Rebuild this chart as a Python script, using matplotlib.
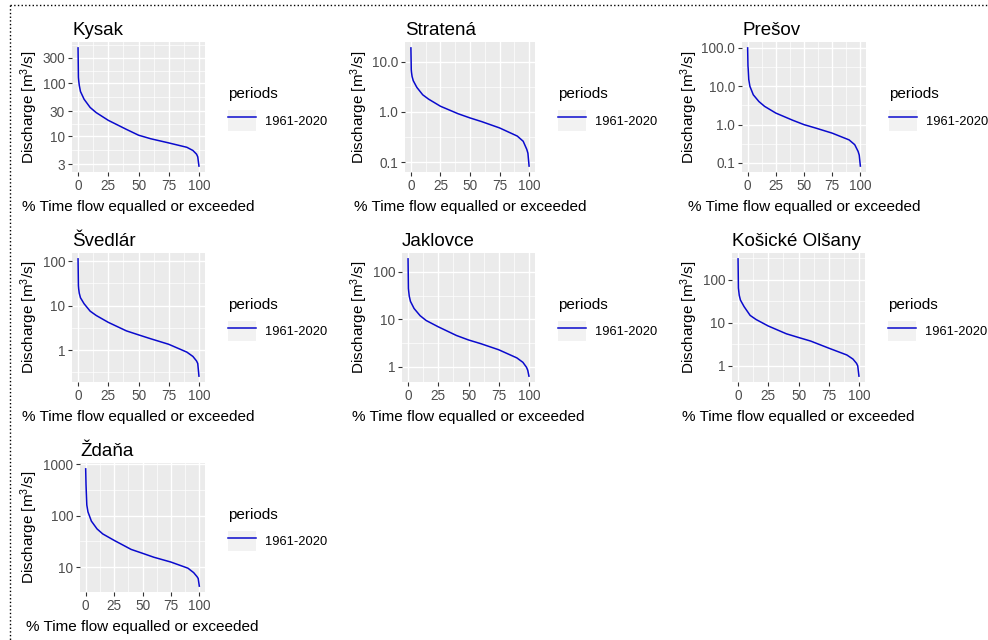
import matplotlib
matplotlib.use("Agg")
import numpy as np
import matplotlib.pyplot as plt
from matplotlib.lines import Line2D
from matplotlib.patches import Rectangle
from matplotlib.legend_handler import HandlerLine2D
from matplotlib.ticker import FixedLocator, NullFormatter

plt.rcParams["font.family"] = ["Liberation Sans", "DejaVu Sans"]
plt.rcParams["mathtext.fontset"] = "custom"
plt.rcParams["mathtext.rm"] = "Liberation Sans"
plt.rcParams["mathtext.default"] = "regular"

# exceedance percentages (shared by all stations)
pct = [0, 0.3, 0.5, 1, 2, 5, 10, 15, 25, 40, 50, 60, 75, 90, 95, 98, 99, 100]

# discharge [m3/s]
kysak_q = [465, 130, 115, 92, 70, 50, 35, 28, 20, 13.5, 10.5, 9.0, 7.5, 6.2, 5.4, 4.6, 4.1, 2.74]
stratena_q = [19, 7.0, 6.2, 5.1, 4.2, 3.1, 2.2, 1.8, 1.3, 0.92, 0.76, 0.64, 0.48, 0.33, 0.26, 0.18, 0.15, 0.083]
presov_q = [100, 34, 28, 15, 10, 6.0, 4.0, 3.0, 2.0, 1.3, 1.0, 0.82, 0.6, 0.4, 0.3, 0.2, 0.16, 0.083]
svedlar_q = [112, 28, 24, 19, 15, 11, 7.5, 6.0, 4.2, 2.7, 2.2, 1.8, 1.35, 0.9, 0.72, 0.57, 0.5, 0.26]
jaklovce_q = [189, 45, 40, 31, 24, 17, 12, 9.5, 7.0, 4.6, 3.7, 3.1, 2.3, 1.55, 1.25, 0.98, 0.85, 0.64]
kosicke_q = [310, 65, 58, 44, 34, 24, 15, 12, 8.5, 5.6, 4.6, 3.8, 2.6, 1.8, 1.45, 1.15, 1.0, 0.58]
zdana_q = [806, 400, 300, 160, 118, 78, 55, 44, 33, 22, 18.5, 15.5, 12.5, 9.5, 7.8, 6.5, 6.0, 4.26]

stations = ["Kysak", "Stratená", "Prešov", "Švedlár", "Jaklovce", "Košické Olšany", "Ždaňa"]
series = [kysak_q, stratena_q, presov_q, svedlar_q, jaklovce_q, kosicke_q, zdana_q]

y_breaks = [
    [3, 10, 30, 100, 300],
    [0.1, 1, 10],
    [0.1, 1, 10, 100],
    [1, 10, 100],
    [1, 10, 100],
    [1, 10, 100],
    [10, 100, 1000],
]
y_labels = [
    ["3", "10", "30", "100", "300"],
    ["0.1", "1.0", "10.0"],
    ["0.1", "1.0", "10.0", "100.0"],
    ["1", "10", "100"],
    ["1", "10", "100"],
    ["1", "10", "100"],
    ["10", "100", "1000"],
]
x_breaks = [0, 25, 50, 75, 100]
period = "1961-2020"

# panel rectangles in pixels: left, top, right, bottom
panels = [
    (72, 42, 205, 172), (405, 42, 535, 172), (742, 42, 866, 172),
    (72, 253, 205, 382), (402, 253, 535, 382), (732, 253, 865, 382),
    (80, 463, 205, 592),
]
cell_left = [0, 330, 660, 0, 330, 660, 0]

W, H = 988, 640
LINE_COL = "#0A0ACD"
PANEL_BG = "#EBEBEB"


class KeyHandler(HandlerLine2D):
    # ggplot-style legend key: grey square behind the line
    def create_artists(self, legend, orig_handle, xdescent, ydescent,
                       width, height, fontsize, trans):
        bg = Rectangle((-xdescent, -ydescent), width, height,
                       facecolor="#F2F2F2", edgecolor="none", transform=trans)
        arts = super().create_artists(legend, orig_handle, xdescent, ydescent,
                                      width, height, fontsize, trans)
        return [bg] + list(arts)


def minor_breaks(breaks, lo, hi):
    lb = np.log10(breaks)
    steps = np.diff(lb)
    mids = list((lb[:-1] + lb[1:]) / 2)
    mids = [lb[0] - steps[0] / 2] + mids + [lb[-1] + steps[-1] / 2]
    return [10 ** m for m in mids if lo < 10 ** m < hi]


fig = plt.figure(figsize=(W / 100, H / 100), dpi=100)

for name, q, brk, lab, (l, t, r, b), cx in zip(stations, series, y_breaks, y_labels, panels, cell_left):
    ax = fig.add_axes([l / W, 1 - b / H, (r - l) / W, (b - t) / H])
    ax.set_facecolor(PANEL_BG)
    line, = ax.plot(pct, q, color=LINE_COL, lw=1.1, label=period)
    ax.set_yscale("log")

    lq = np.log10(q)
    span = lq.max() - lq.min()
    lo, hi = 10 ** (lq.min() - 0.05 * span), 10 ** (lq.max() + 0.05 * span)
    ax.set_ylim(lo, hi)
    ax.set_xlim(-5, 105)

    ax.yaxis.set_major_locator(FixedLocator(brk))
    ax.set_yticklabels(lab)
    ax.yaxis.set_minor_locator(FixedLocator(minor_breaks(brk, lo, hi)))
    ax.yaxis.set_minor_formatter(NullFormatter())
    ax.set_xticks(x_breaks)
    ax.xaxis.set_minor_locator(FixedLocator([12.5, 37.5, 62.5, 87.5]))

    ax.grid(which="major", color="white", lw=1.0)
    ax.grid(which="minor", color="white", lw=0.5)
    ax.set_axisbelow(True)
    for s in ax.spines.values():
        s.set_visible(False)
    ax.tick_params(which="major", length=3, width=0.8, color="#333333",
                   labelcolor="#4D4D4D", labelsize=9.8, pad=2)
    ax.tick_params(which="minor", length=0)

    ax.set_title(name, loc="left", fontsize=13.5, pad=5)
    ax.set_xlabel("% Time flow equalled or exceeded", fontsize=11, labelpad=5)
    ax.set_ylabel("Discharge [m$^{3}$/s]", fontsize=11)
    ax.yaxis.set_label_coords((cx + 40) / W, 1 - ((t + b) / 2) / H, transform=fig.transFigure)

    ax.legend(handles=[line], title="periods", loc="center left",
              bbox_to_anchor=((r + 23) / W, 1 - ((t + b) / 2 + 2) / H),
              bbox_transform=fig.transFigure, frameon=False, borderpad=0,
              borderaxespad=0, handlelength=2.2, handleheight=2.1,
              handletextpad=0.7, labelspacing=0.7, fontsize=9.3,
              title_fontsize=11, alignment="left",
              handler_map={Line2D: KeyHandler()})

# dotted frame on top and left
fig.add_artist(Line2D([10 / W, 1], [1 - 5 / H, 1 - 5 / H], transform=fig.transFigure,
                      color="black", ls=":", lw=1.0))
fig.add_artist(Line2D([10 / W, 10 / W], [1 - 5 / H, 0], transform=fig.transFigure,
                      color="black", ls=":", lw=1.0))

fig.savefig("out.png", dpi=100)
